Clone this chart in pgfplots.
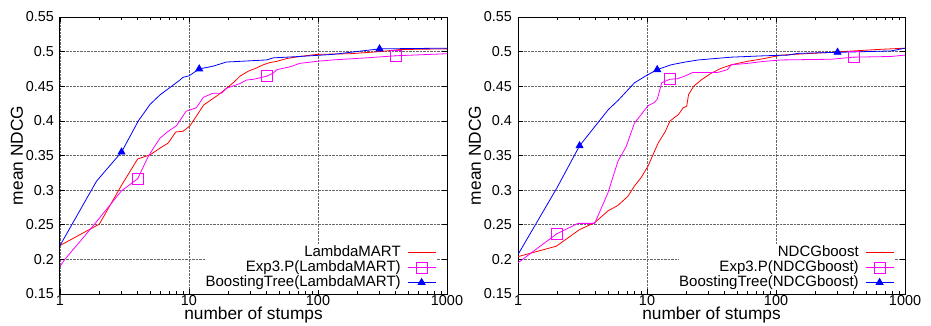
\documentclass[border=0pt]{standalone}
\usepackage{pgfplots}
\pgfplotsset{compat=1.18}
\usepackage{fontspec}
\setmainfont{Liberation Sans}

\pgfdeclareplotmark{sqdot}{%
  \pgfpathrectangle{\pgfpoint{-\pgfplotmarksize}{-\pgfplotmarksize}}{\pgfpoint{2\pgfplotmarksize}{2\pgfplotmarksize}}%
  \pgfusepathqstroke
  \pgfpathcircle{\pgfpointorigin}{0.6pt}\pgfusepathqfill}

\definecolor{cred}{RGB}{255,0,0}
\definecolor{cmag}{RGB}{255,0,255}
\definecolor{cblue}{RGB}{0,0,255}

\begin{document}
\begin{tikzpicture}
\pgfplotsset{
  every axis/.append style={
    xmin=1, xmax=1000, ymin=0.15, ymax=0.55,
    scale only axis, width=387pt, height=277pt,
    xtick={1,10,100,1000},
    ytick={0.15,0.2,0.25,0.3,0.35,0.4,0.45,0.5,0.55},
    yticklabels={0.15,0.2,0.25,0.3,0.35,0.4,0.45,0.5,0.55},
    grid=major,
    major grid style={densely dotted, black!60, line width=0.6pt},
    tick align=inside, major tick length=5pt, minor tick length=3pt,
    tick style={black, line width=0.6pt},
    axis line style={line width=1pt},
    tick label style={font=\fontsize{14.4}{16}\selectfont},
    xticklabel style={anchor=base, inner sep=0pt, yshift=-11.5pt},
    yticklabel style={anchor=east, inner sep=0pt, xshift=-6pt},
    xlabel style={at={(rel axis cs:0.5,0)}, anchor=base, yshift=-25.5pt, inner sep=0pt, font=\fontsize{17.3}{20}\selectfont},
    ylabel style={at={(rel axis cs:0,0.5)}, rotate=0, anchor=center, yshift=43pt, font=\fontsize{17.3}{20}\selectfont},
    legend style={at={(rel axis cs:1,0)}, anchor=south east, xshift=-11pt, yshift=4pt,
      draw=none, fill=white, inner sep=0pt, outer sep=0pt,
      font=\fontsize{15}{15}\selectfont, column sep=6pt,
      nodes={inner sep=0.5pt, text height=10.8pt, text depth=3.2pt}},
    legend cell align=right,
  },
}
\begin{axis}[xmode=log, log ticks with fixed point,
  /pgf/number format/assume math mode=true,
  /pgf/number format/1000 sep={},
  xlabel={number of stumps}, ylabel={mean NDCG},
  legend plot pos=right,
  legend image code/.code={\draw[#1, mark indices={2}] plot coordinates {(0pt,0pt) (14pt,0pt) (28pt,0pt)};}]
\addplot[color=cred, line width=0.8pt, mark=none] table {
x y
1 0.220
2.02 0.251
3.0 0.307
4.0 0.345
5.0 0.351
6.0 0.361
6.9 0.368
7.9 0.384
9.0 0.385
10.2 0.393
11.8 0.411
13 0.423
15 0.431
17 0.438
19.5 0.447
22 0.455
25 0.465
29 0.472
33 0.476
37.6 0.481
42 0.484
48 0.486
57 0.490
72 0.493
98 0.496
177 0.497
300 0.500
430 0.503
1000 0.504
};
\addlegendentry{LambdaMART}
\addplot[color=cmag, line width=0.8pt, mark=sqdot, mark size=5.5pt, mark options={solid}, mark indices={5,19,27}] table {
x y
1 0.190
1.09 0.200
1.71 0.243
3 0.299
4 0.3165
4.84 0.349
5.95 0.375
6.9 0.385
8 0.393
9.5 0.414
11.4 0.419
12.9 0.434
15.4 0.440
17.9 0.440
19.5 0.447
24.9 0.454
27.9 0.459
31.5 0.460
40 0.4645
45 0.469
48 0.474
60.6 0.478
72 0.483
98 0.486
130 0.488
237 0.491
400 0.494
1000 0.497
};
\addlegendentry{Exp3.P(LambdaMART)}
\addplot[color=cblue, line width=0.8pt, mark=triangle*, mark size=4pt, mark options={solid, fill=cblue}, mark indices={3,11,19}] table {
x y
1 0.220
1.92 0.313
3 0.355
4.05 0.400
5 0.424
6 0.438
7.1 0.448
8.5 0.459
9 0.463
10 0.465
12 0.475
15.4 0.479
19.5 0.485
25 0.486
40 0.488
45 0.491
72 0.493
130 0.496
300 0.504
1000 0.505
};
\addlegendentry{BoostingTree(LambdaMART)}
\end{axis}

\begin{axis}[at={(458pt,0pt)}, xmode=log, log ticks with fixed point,
  /pgf/number format/assume math mode=true,
  /pgf/number format/1000 sep={},
  xlabel={number of stumps}, ylabel={mean NDCG},
  legend plot pos=right,
  legend image code/.code={\draw[#1, mark indices={2}] plot coordinates {(0pt,0pt) (14pt,0pt) (28pt,0pt)};}]
\addplot[color=cred, line width=0.8pt, mark=none] table {
x y
1 0.204
1.98 0.219
3.0 0.243
3.93 0.253
4.98 0.270
5.96 0.278
7.1 0.291
8.0 0.306
9.0 0.318
10.2 0.335
12.2 0.368
13.8 0.384
15.1 0.400
17.5 0.409
19.1 0.419
20.3 0.421
21 0.438
23 0.450
26.7 0.460
31.6 0.469
37.7 0.476
45 0.481
60 0.486
81 0.490
110 0.495
267 0.499
600 0.503
1000 0.505
};
\addlegendentry{NDCGboost}
\addplot[color=cmag, line width=0.8pt, mark=sqdot, mark size=5.5pt, mark options={solid}, mark indices={2,14,25}] table {
x y
1 0.195
2 0.237
2.92 0.252
3.93 0.252
4.98 0.296
5.96 0.342
6.9 0.363
8 0.397
9 0.409
10.2 0.422
11.3 0.426
12 0.431
13 0.455
15 0.460
17.3 0.461
19.8 0.465
22.7 0.470
35.5 0.470
42 0.474
45 0.481
60 0.483
81 0.486
110 0.488
267 0.489
400 0.492
780 0.493
1000 0.495
};
\addlegendentry{Exp3.P(NDCGboost)}
\addplot[color=cblue, line width=0.8pt, mark=triangle*, mark size=4pt, mark options={solid, fill=cblue}, mark indices={3,8,16}] table {
x y
1 0.207
2 0.303
3 0.364
5 0.416
6 0.430
8 0.455
10 0.466
12 0.474
15.4 0.481
19.8 0.485
25 0.488
45 0.492
81 0.494
124 0.495
148 0.4975
300 0.499
780 0.501
1000 0.505
};
\addlegendentry{BoostingTree(NDCGboost)}
\end{axis}
\pgfresetboundingbox
\path (-60pt,-31pt) rectangle (871pt,294pt);
\end{tikzpicture}
\end{document}
